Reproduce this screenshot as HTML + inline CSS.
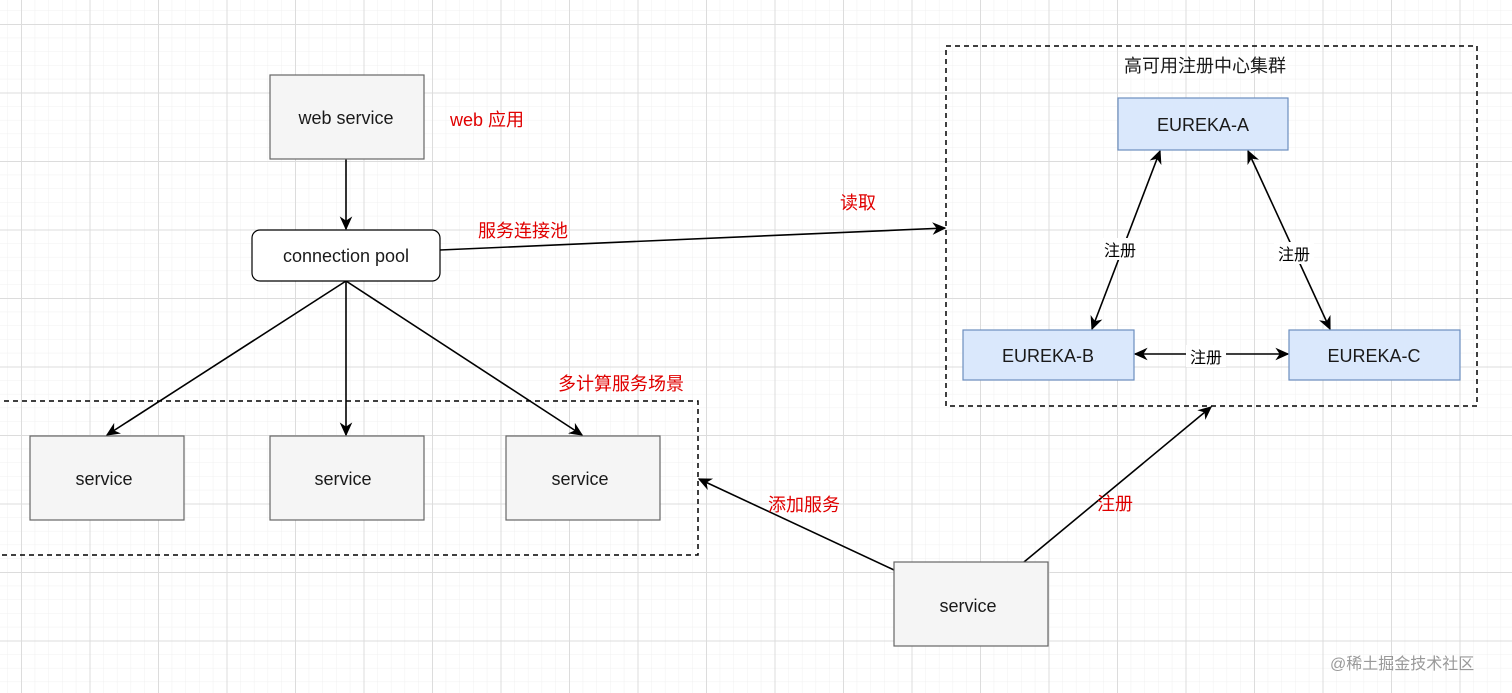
<!DOCTYPE html>
<html><head><meta charset="utf-8"><style>
html,body{margin:0;padding:0;background:#fff;}
svg{display:block;}
text{font-family:"Liberation Sans","Noto Sans CJK SC",sans-serif;}
</style></head><body>
<svg width="1512" height="693" viewBox="0 0 1512 693" xmlns="http://www.w3.org/2000/svg">
<defs>
<pattern id="minor" x="7.3" y="10.3" width="13.7" height="13.7" patternUnits="userSpaceOnUse">
<path d="M0 0H13.7M0 0V13.7" stroke="#f0f0f0" stroke-width="1" fill="none"/>
</pattern>
<pattern id="major" x="21" y="24" width="68.5" height="68.5" patternUnits="userSpaceOnUse">
<path d="M0 0.5H68.5M0.5 0V68.5" stroke="#dcdcdc" stroke-width="1" fill="none"/>
</pattern>
<marker id="ah" viewBox="0 0 10 10" refX="9" refY="5" markerWidth="14" markerHeight="14" orient="auto-start-reverse" markerUnits="userSpaceOnUse">
<path d="M0 0.5L10 5L0 9.5L3 5Z" fill="#000"/>
</marker>
</defs>
<rect width="1512" height="693" fill="url(#minor)"/>
<rect width="1512" height="693" fill="url(#major)"/>

<rect x="-5" y="401" width="703" height="154" fill="none" stroke="#000" stroke-width="1.5" stroke-dasharray="5,4"/>
<rect x="946" y="46" width="531" height="360" fill="none" stroke="#000" stroke-width="1.5" stroke-dasharray="5,4"/>

<g stroke="#000" stroke-width="1.6" fill="none">
<line x1="346" y1="159" x2="346" y2="229" marker-end="url(#ah)"/>
<line x1="346" y1="281" x2="107" y2="435" marker-end="url(#ah)"/>
<line x1="346" y1="281" x2="346" y2="435" marker-end="url(#ah)"/>
<line x1="346" y1="281" x2="582" y2="435" marker-end="url(#ah)"/>
<line x1="440" y1="250" x2="945" y2="228" marker-end="url(#ah)"/>
<line x1="1160" y1="151" x2="1092" y2="329" marker-start="url(#ah)" marker-end="url(#ah)"/>
<line x1="1248" y1="151" x2="1330" y2="329" marker-start="url(#ah)" marker-end="url(#ah)"/>
<line x1="1135" y1="354" x2="1288" y2="354" marker-start="url(#ah)" marker-end="url(#ah)"/>
<line x1="894" y1="570" x2="699" y2="479" marker-end="url(#ah)"/>
<line x1="1024" y1="562" x2="1211" y2="407" marker-end="url(#ah)"/>
</g>

<g stroke="#666" stroke-width="1.2" fill="#f5f5f5">
<rect x="270" y="75" width="154" height="84"/>
<rect x="30" y="436" width="154" height="84"/>
<rect x="270" y="436" width="154" height="84"/>
<rect x="506" y="436" width="154" height="84"/>
<rect x="894" y="562" width="154" height="84"/>
</g>
<rect x="252" y="230" width="188" height="51" rx="8" fill="#fff" stroke="#000" stroke-width="1.2"/>
<g stroke="#6c8ebf" stroke-width="1.2" fill="#dae8fc">
<rect x="1118" y="98" width="170" height="52"/>
<rect x="963" y="330" width="171" height="50"/>
<rect x="1289" y="330" width="171" height="50"/>
</g>

<g font-size="18" fill="#1a1a1a" text-anchor="middle">
<text x="346" y="124">web service</text>
<text x="346" y="262">connection pool</text>
<text x="104" y="485">service</text>
<text x="343" y="485">service</text>
<text x="580" y="485">service</text>
<text x="968" y="612">service</text>
<text x="1203" y="131">EUREKA-A</text>
<text x="1048" y="362">EUREKA-B</text>
<text x="1374" y="362">EUREKA-C</text>
<text x="1205" y="72">高可用注册中心集群</text>
</g>

<g font-size="16" fill="#000" text-anchor="middle">
<rect x="1100" y="238" width="40" height="22" fill="#fff"/>
<text x="1120" y="256">注册</text>
<rect x="1274" y="242" width="40" height="22" fill="#fff"/>
<text x="1294" y="260">注册</text>
<rect x="1186" y="345" width="40" height="22" fill="#fff"/>
<text x="1206" y="363">注册</text>
</g>

<g font-size="18" fill="#e00000">
<text x="450" y="126">web 应用</text>
<text x="478" y="237">服务连接池</text>
<text x="840" y="209">读取</text>
<text x="558" y="390">多计算服务场景</text>
<text x="768" y="511">添加服务</text>
<text x="1097" y="510">注册</text>
</g>
<text x="1330" y="669" font-size="16" fill="#999">@稀土掘金技术社区</text>
</svg>
</body></html>
